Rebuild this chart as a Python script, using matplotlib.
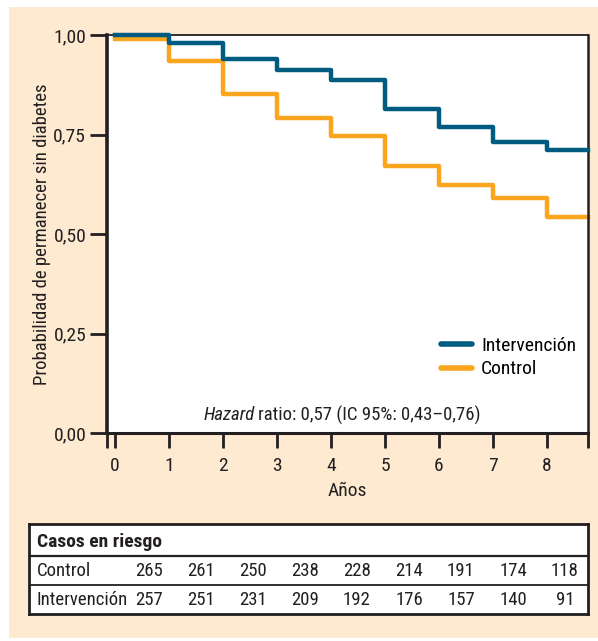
import matplotlib
matplotlib.use("Agg")
import matplotlib.pyplot as plt
from matplotlib.patches import Rectangle
import numpy as np

plt.rcParams["font.family"] = ["Roboto Condensed", "Liberation Sans Narrow", "Roboto", "DejaVu Sans"]

# survival curves (step values per year)
years = [0, 1, 2, 3, 4, 5, 6, 7, 8]
end_followup = 8.76
intervencion = [1.00, 0.98, 0.94, 0.912, 0.887, 0.814, 0.769, 0.731, 0.711]
control = [0.99, 0.935, 0.852, 0.791, 0.746, 0.671, 0.623, 0.590, 0.543]

# numbers at risk
risk_control = [265, 261, 250, 238, 228, 214, 191, 174, 118]
risk_intervencion = [257, 251, 231, 209, 192, 176, 157, 140, 91]

yticks = [0.0, 0.25, 0.5, 0.75, 1.0]
ytick_labels = ["0,00", "0,25", "0,50", "0,75", "1,00"]

BLUE = "#005b80"
ORANGE = "#f9a51d"
BEIGE = "#fdead0"
INK = "#231f20"
FS = 14

W, H = 598, 641
fig = plt.figure(figsize=(W / 100, H / 100), dpi=100)
fig.patch.set_facecolor("white")
fig.patches.append(Rectangle((9 / W, 1 - 638 / H), 1 - 9 / W, (638 - 7) / H,
                             transform=fig.transFigure, facecolor=BEIGE,
                             edgecolor="none", zorder=-10))

ax = fig.add_axes([107 / W, 1 - 433 / H, (588 - 107) / W, (433 - 35) / H])
ax.set_facecolor("white")

xmin = -0.15
ax.step(years + [end_followup], intervencion + [intervencion[-1]], where="post",
        color=BLUE, lw=3.2, label="Intervención", clip_on=False, zorder=3)
ax.step(years + [end_followup], control + [control[-1]], where="post",
        color=ORANGE, lw=3.2, label="Control", clip_on=False, zorder=2)

ax.set_xlim(xmin, end_followup)
ax.set_ylim(0, 1.0)
ax.set_yticks(yticks)
ax.set_yticklabels(ytick_labels)
ax.set_xticks(years)
ax.set_xticks([xmin, end_followup], minor=True)
ax.tick_params(axis="both", which="both", direction="out", width=2, color=INK,
               labelsize=FS, labelcolor=INK)
ax.tick_params(axis="x", which="both", length=11, pad=6)
ax.tick_params(axis="y", length=12, pad=3)

for side, lw in [("left", 2.6), ("bottom", 2.2), ("top", 1.3), ("right", 1.8)]:
    ax.spines[side].set_linewidth(lw)
    ax.spines[side].set_color(INK)

ax.set_ylabel("Probabilidad de permanecer sin diabetes", fontsize=FS - 0.5,
              color=INK, labelpad=2)
ax.set_xlabel("Años", fontsize=FS, color=INK, labelpad=5)

ax.text(0.308, 0.045, "Hazard", style="italic", fontsize=FS - 0.5, ha="right",
        va="center", transform=ax.transAxes, color=INK)
ax.text(0.313, 0.045, "ratio: 0,57 (IC 95%: 0,43–0,76)", fontsize=FS - 0.5, ha="left",
        va="center", transform=ax.transAxes, color=INK)

leg = ax.legend(loc="lower right", bbox_to_anchor=(1.0, 0.108), frameon=False,
                fontsize=FS, handlelength=1.6, handletextpad=0.45,
                labelspacing=0.28, borderaxespad=0.2)
for line in leg.get_lines():
    line.set_linewidth(4)
    line.set_solid_capstyle("round")

# risk table
tab = fig.add_axes([29 / W, 1 - 614 / H, (588 - 29) / W, (614 - 524) / H])
tab.set_facecolor("white")
tab.set_xlim(0, 1)
tab.set_ylim(0, 1)
tab.set_xticks([])
tab.set_yticks([])
for s in tab.spines.values():
    s.set_linewidth(2)
    s.set_color(INK)
tab.axhline((614 - 556) / 90, color=INK, lw=1.6)
tab.axhline((614 - 585) / 90, color=INK, lw=1.3)

col_x = (149 - 29) / 559 + np.arange(len(risk_control)) * 52 / 559
tab.text(0.014, 0.80, "Casos en riesgo", fontsize=FS, fontweight="bold",
         va="center", ha="left", color=INK)
for label, row, yy in [("Control", risk_control, 0.48),
                       ("Intervención", risk_intervencion, 0.155)]:
    tab.text(0.014, yy, label, fontsize=FS - 0.5, va="center", ha="left", color=INK)
    for cx, v in zip(col_x, row):
        tab.text(cx, yy, str(v), fontsize=FS - 0.5, va="center", ha="center",
                 color=INK)

fig.savefig("out.png", dpi=100, facecolor=fig.get_facecolor())
